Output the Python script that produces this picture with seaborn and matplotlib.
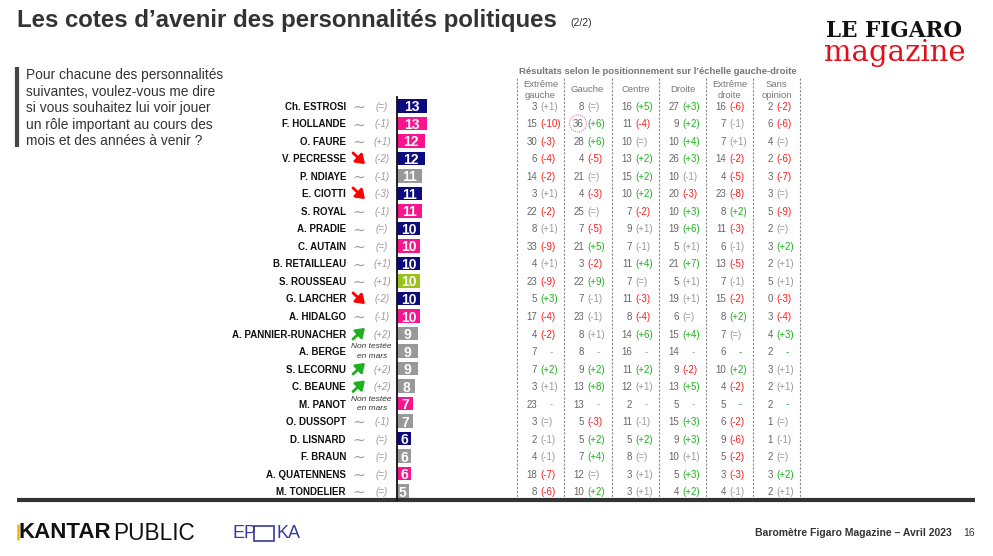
import numpy as np
import pandas as pd
import seaborn as sns
import matplotlib.pyplot as plt
from matplotlib.patches import Ellipse, Rectangle
from matplotlib.transforms import blended_transform_factory

# Data
names = ['Ch. ESTROSI', 'F. HOLLANDE', 'O. FAURE', 'V. PECRESSE', 'P. NDIAYE',
         'E. CIOTTI', 'S. ROYAL', 'A. PRADIE', 'C. AUTAIN', 'B. RETAILLEAU',
         'S. ROUSSEAU', 'G. LARCHER', 'A. HIDALGO', 'A. PANNIER-RUNACHER',
         'A. BERGE', 'S. LECORNU', 'C. BEAUNE', 'M. PANOT', 'O. DUSSOPT',
         'D. LISNARD', 'F. BRAUN', 'A. QUATENNENS', 'M. TONDELIER']
scores = [13, 13, 12, 12, 11, 11, 11, 10, 10, 10, 10, 10, 10, 9, 9, 9, 8, 7, 7, 6, 6, 6, 5]
score_changes = ['=', '-1', '+1', '-2', '-1', '-3', '-1', '=', '=', '+1', '+1', '-2', '-1',
                 '+2', '', '+2', '+2', '', '-1', '=', '=', '=', '=']

navy, pink, grey, lime = '#0b0b7d', '#f7148c', '#999999', '#99c31c'
bar_colors = [navy, pink, pink, navy, grey, navy, pink, navy, pink, navy, lime, navy, pink,
              grey, grey, grey, grey, pink, grey, navy, grey, pink, grey]

groups = ['Extrême\ngauche', 'Gauche', 'Centre', 'Droite', 'Extrême\ndroite', 'Sans\nopinion']

eg_vals = [3, 15, 30, 6, 14, 3, 22, 8, 33, 4, 23, 5, 17, 4, 7, 7, 3, 23, 3, 2, 4, 18, 8]
eg_chg = ['+1', '-10', '-3', '-4', '-2', '+1', '-2', '+1', '-9', '+1', '-9', '+3', '-4', '-2',
          '', '+2', '+1', '', '=', '-1', '-1', '-7', '-6']
g_vals = [8, 36, 28, 4, 21, 4, 25, 7, 21, 3, 22, 7, 23, 8, 8, 9, 13, 13, 5, 5, 7, 12, 10]
g_chg = ['=', '+6', '+6', '-5', '=', '-3', '=', '-5', '+5', '-2', '+9', '-1', '-1', '+1',
         '', '+2', '+8', '', '-3', '+2', '+4', '=', '+2']
c_vals = [16, 11, 10, 13, 15, 10, 7, 9, 7, 11, 7, 11, 8, 14, 16, 11, 12, 2, 11, 5, 8, 3, 3]
c_chg = ['+5', '-4', '=', '+2', '+2', '+2', '-2', '+1', '-1', '+4', '=', '-3', '-4', '+6',
         '', '+2', '+1', '', '-1', '+2', '=', '+1', '+1']
d_vals = [27, 9, 10, 26, 10, 20, 10, 19, 5, 21, 5, 19, 6, 15, 14, 9, 13, 5, 15, 9, 10, 5, 4]
d_chg = ['+3', '+2', '+4', '+3', '-1', '-3', '+3', '+6', '+1', '+7', '+1', '+1', '=', '+4',
         '', '-2', '+5', '', '+3', '+3', '+1', '+3', '+2']
ed_vals = [16, 7, 7, 14, 4, 23, 8, 11, 6, 13, 7, 15, 8, 7, 6, 10, 4, 5, 6, 9, 5, 3, 4]
ed_chg = ['-6', '-1', '+1', '-2', '-5', '-8', '+2', '-3', '-1', '-5', '-1', '-2', '+2', '=',
          '', '+2', '-2', '', '-2', '-6', '-2', '-3', '-1']
so_vals = [2, 6, 4, 2, 3, 3, 5, 2, 3, 2, 5, 0, 3, 4, 2, 3, 2, 2, 1, 1, 2, 3, 2]
so_chg = ['-2', '-6', '=', '-6', '-7', '=', '-9', '=', '+2', '+1', '+1', '-3', '-4', '+3',
          '', '+1', '+1', '', '=', '-1', '=', '+2', '+1']

table_vals = [eg_vals, g_vals, c_vals, d_vals, ed_vals, so_vals]
table_chg = [eg_chg, g_chg, c_chg, d_chg, ed_chg, so_chg]

RED, GREEN, LIGHT = '#ff1a1a', '#1fb01f', '#999999'
dash_colors = [LIGHT, LIGHT, LIGHT, LIGHT, GREEN, GREEN]


def chg_color(s):
    if s in ('', '='):
        return LIGHT
    v = int(s)
    if v >= 2:
        return GREEN
    if v <= -2:
        return RED
    return LIGHT


plt.rcParams['font.family'] = ['Liberation Sans', 'DejaVu Sans']
narrow = ['Liberation Sans Narrow', 'Liberation Sans']

fig = plt.figure(figsize=(9.93, 5.56), dpi=100)
bg = fig.add_axes([0, 0, 1, 1])
bg.set_xlim(0, 993)
bg.set_ylim(556, 0)
bg.axis('off')

# bar axes: one row every 17.5 px, zero at x=397
ax = fig.add_axes([397 / 993, 56 / 556, 100 / 993, 403 / 556])
df = pd.DataFrame({'name': names, 'score': scores})
sns.barplot(data=df, x='score', y='name', hue='name', palette=bar_colors, dodge=False,
            legend=False, width=0.78, saturation=1, ax=ax)
ax.set_xlim(0, 100 / 2.3)
ax.set_ylim(len(names) - 1 + 0.514, -0.514)
ax.set_xticks([])
ax.set_yticks([])
ax.set_xlabel('')
ax.set_ylabel('')
ax.patch.set_alpha(0)
for side in ['top', 'right', 'bottom']:
    ax.spines[side].set_visible(False)
ax.spines['left'].set_linewidth(1.3)
ax.spines['left'].set_color('#111111')

for i, s in enumerate(scores):
    ax.text(s / 2, i, str(s), ha='center', va='center_baseline', color='white',
            fontsize=10, fontweight='bold')

# x in pixels, y in rows
tr = blended_transform_factory(bg.transData, ax.transData)

for i, name in enumerate(names):
    bg.text(346, i, name, transform=tr, ha='right', va='center_baseline', fontsize=7,
            fontweight='bold', color='#111111', family=narrow)
    ch = score_changes[i]
    if ch == '':
        bg.text(371, i - 0.24, 'Non testée', transform=tr, ha='center', va='center',
                fontsize=6, style='italic', color='#333333')
        bg.text(372, i + 0.3, 'en mars', transform=tr, ha='center', va='center',
                fontsize=6, style='italic', color='#333333')
        continue
    bg.text(382, i, '(' + ch + ')', transform=tr, ha='center', va='center_baseline',
            fontsize=7, style='italic', color='#9a9a9a')
    col = chg_color(ch)
    if col == LIGHT:
        bg.text(359, i + 0.08, '\u223c', transform=tr, ha='center', va='center', fontsize=11,
                color='#a0a0a0', family=['DejaVu Sans'])
    else:
        up = ch.startswith('+')
        dy = -0.32 if up else 0.32
        bg.annotate('', xy=(365, i + dy), xytext=(353, i - dy), xycoords=tr, textcoords=tr,
                    arrowprops=dict(arrowstyle='-|>,head_length=0.5,head_width=0.35',
                                    lw=2.0, color=GREEN if up else '#ff0000',
                                    shrinkA=0, shrinkB=0))

# table
col_left = [517, 564, 612, 659, 706, 753]
col_w = 47
for k, gname in enumerate(groups):
    x0 = col_left[k]
    bg.plot([x0, x0], [78, 500], color='#888888', lw=0.8, ls=(0, (2, 1.5)))
    bg.text(x0 + col_w / 2, 90, gname, ha='center', va='center', fontsize=6.8,
            color='#777777', linespacing=1.35)
    for i in range(len(names)):
        bg.text(x0 + 20, i, str(table_vals[k][i]), transform=tr, ha='right',
                va='center_baseline', fontsize=7, color='#666666')
        ch = table_chg[k][i]
        if ch == '':
            bg.text(x0 + 34, i, '-', transform=tr, ha='center', va='center_baseline',
                    fontsize=7, color=dash_colors[k])
        else:
            bg.text(x0 + 23, i, '(' + ch + ')', transform=tr, ha='left',
                    va='center_baseline', fontsize=7, color=chg_color(ch))
bg.plot([800, 800], [78, 500], color='#888888', lw=0.8, ls=(0, (2, 1.5)))
bg.text(658, 71, 'Résultats selon le positionnement sur l\u2019échelle gauche-droite',
        ha='center', va='center', fontsize=6.8, fontweight='bold', color='#777777')

# circle around the highlighted value
bg.add_patch(Ellipse((578, 1), 17, 17 / 17.5, transform=tr, fill=False,
                     edgecolor='#f06aa8', lw=0.8, ls=(0, (1, 1))))

# title
bg.text(17, 20, 'Les cotes d\u2019avenir des personnalités politiques', ha='left',
        va='center', fontsize=17.3, fontweight='bold', color='#333333')
bg.text(570, 23, '(2/2)', ha='left', va='center', fontsize=7.5, color='#333333')

# question
bg.plot([17, 17], [67, 147], color='#444444', lw=3, solid_capstyle='butt')
question = ['Pour chacune des personnalités', 'suivantes, voulez-vous me dire',
            'si vous souhaitez lui voir jouer', 'un rôle important au cours des',
            'mois et des années à venir ?']
for j, line in enumerate(question):
    bg.text(26, 75 + j * 16.6, line, ha='left', va='center', fontsize=9.9, color='#333333')

# logo
bg.text(894, 37, 'LE FIGARO', ha='center', va='baseline', fontsize=15.5, fontweight='heavy',
        color='#111111', family=['DejaVu Serif'])
bg.text(895, 61, 'magazine', ha='center', va='baseline', fontsize=21, color='#e3101b',
        family=['DejaVu Serif'])

# bottom rule and footer
bg.plot([17, 975], [500, 500], color='#333333', lw=3, solid_capstyle='butt')
bg.plot([18, 18], [524, 540], color='#f2b600', lw=1.8, solid_capstyle='butt')
bg.text(18, 533, 'KANTAR', ha='left', va='center', fontsize=16, fontweight='bold', color='#111111')
bg.text(113, 533, 'PUBLIC', ha='left', va='center', fontsize=16.3, color='#111111')
bg.text(232, 533, 'EP', ha='left', va='center', fontsize=13, color='#3a3a9c', family=narrow)
bg.add_patch(Rectangle((254, 525.5), 20, 15, fill=False, edgecolor='#3a3a9c', lw=1.2))
bg.text(276, 533, 'KA', ha='left', va='center', fontsize=13, color='#3a3a9c', family=narrow)
bg.text(952, 533, 'Baromètre Figaro Magazine \u2013 Avril 2023', ha='right', va='center',
        fontsize=7.5, fontweight='bold', color='#333333')
bg.text(975, 533, '16', ha='right', va='center', fontsize=7.5, color='#333333')

fig.savefig('out.png', dpi=100)
